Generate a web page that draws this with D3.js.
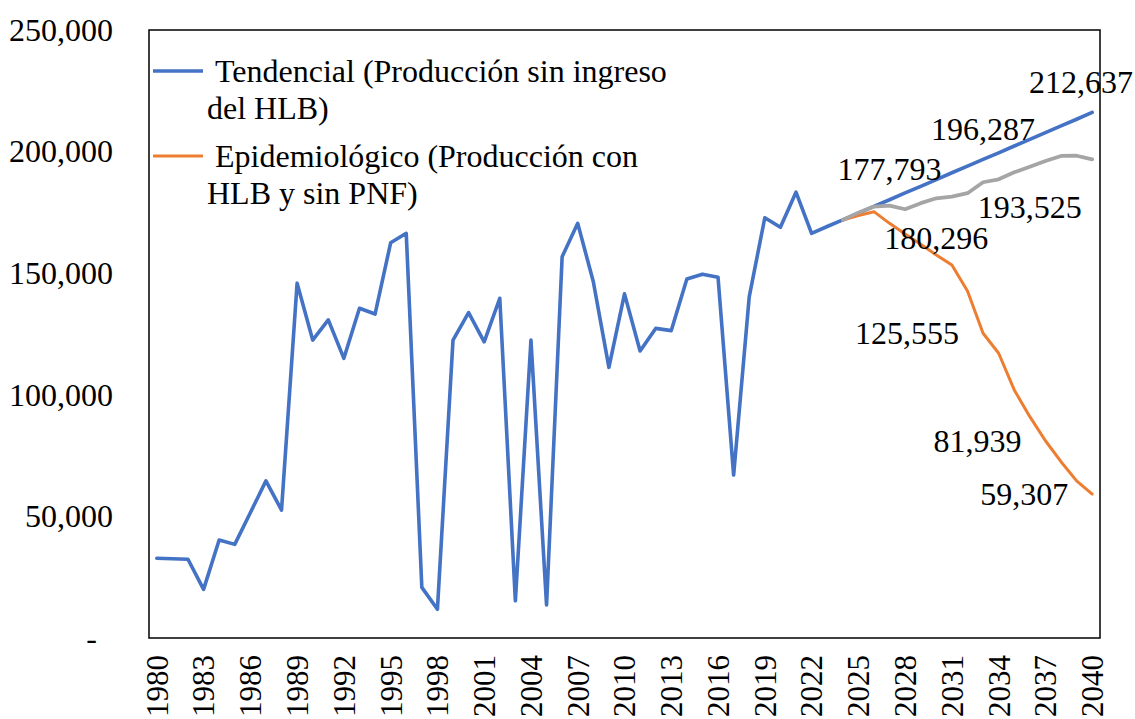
<!DOCTYPE html>
<html>
<head>
<meta charset="utf-8">
<script src="https://cdn.jsdelivr.net/npm/d3@7"></script>
<style>
  body { margin: 0; background: #fff; }
  text { font-family: 'Liberation Serif', 'Times New Roman', serif; fill: #000; }
</style>
</head>
<body>
<svg id="chart" width="1135" height="719"></svg>
<script>
// categories
const years = d3.range(1980, 2041);
const tickYears = years.filter(y => (y - 1980) % 3 === 0);
const yTicks = [0, 50000, 100000, 150000, 200000, 250000];

// Tendencial (1980 - 2040)
const tendencial = [
  32800, 32600, 32400, 20000, 40300, 38500, 51500, 64600, 52600, 145900,
  122500, 130800, 115000, 135600, 133200, 162500, 166400, 20800, 11800, 122500,
  133800, 121800, 139700, 15300, 122500, 13600, 156800, 170500, 146500, 111300,
  141500, 118000, 127300, 126400, 147600, 149600, 148300, 67000, 140300, 172800,
  168900, 183300, 166400, 169200, 171900, 174700, 177500, 180200, 183000, 185700,
  188500, 191300, 194000, 196800, 199500, 202300, 205000, 207800, 210600, 213300, 216100
];
// Epidemiologico (2024 - 2040)
const epidemiologico = [
  171900, 173700, 175300, 170500, 166100, 161900, 157500, 153400, 142700,
  125300, 117100, 102000, 91000, 81100, 72500, 64600, 59200
];
// third series, grey (2024 - 2040)
const conPNF = [
  171900, 174900, 177400, 177800, 176300, 178800, 180800, 181500, 182900,
  187400, 188600, 191500, 193800, 196100, 198200, 198300, 196800
];

const legendNames = [
  ['Tendencial (Producción sin ingreso', 'del HLB)'],
  ['Epidemiológico (Producción con', 'HLB y sin PNF)']
];

// data labels: series, year, text, placement
const labelSeries = ['tend', 'tend', 'tend', 'gris', 'gris', 'epi', 'epi', 'epi'];
const labelYears = [2027, 2033, 2040, 2030, 2036, 2033, 2037, 2040];
const labelTexts = ['177,793', '196,287', '212,637', '180,296', '193,525', '125,555', '81,939', '59,307'];
const labelPlace = ['above', 'above', 'above', 'below', 'below', 'left', 'left', 'left'];

const width = 1135,
  height = 719,
  margins = { left: 149, right: 35, top: 30, bottom: 81 },
  fontSize = '32px';

const vis = d3.select('#chart');

const xScale = d3
    .scaleBand()
    .domain(years)
    .range([margins.left, width - margins.right]),
  yScale = d3
    .scaleLinear()
    .domain([0, 250000])
    .range([height - margins.bottom, margins.top]);

const xc = d => xScale(d) + xScale.bandwidth() / 2;

const series = {
  tend: { start: 1980, values: tendencial, colour: '#4472C4', width: 3.6 },
  epi: { start: 2024, values: epidemiologico, colour: '#ED7D31', width: 3 },
  gris: { start: 2024, values: conPNF, colour: '#A5A5A5', width: 3.75 }
};

//Y axis labels, no ticks
const yAxis = d3
  .axisLeft(yScale)
  .tickValues(yTicks)
  .tickFormat(d => (d === 0 ? '-' : d3.format(',')(d)))
  .tickSize(0)
  .tickPadding(36);

const gy = vis
  .append('g')
  .attr('transform', 'translate(' + margins.left + ',0)')
  .call(yAxis);
gy.select('.domain').remove();
gy.selectAll('text').style('font-size', fontSize).attr('font-family', null);
gy.selectAll('.tick')
  .filter(d => d === 0)
  .select('text')
  .attr('x', -52);

//X axis, rotated year labels
const xAxis = d3
  .axisBottom(xScale)
  .tickValues(tickYears)
  .tickSize(0)
  .tickSizeOuter(0);

const gx = vis
  .append('g')
  .attr('transform', 'translate(0,' + (height - margins.bottom) + ')')
  .call(xAxis);
gx.select('.domain').remove();
gx.selectAll('text')
  .attr('font-family', null)
  .style('font-size', '31px')
  .attr('transform', 'rotate(-90)')
  .attr('text-anchor', 'end')
  .attr('x', -17)
  .attr('y', 0)
  .attr('dy', '0.35em');

//Make lines
const lineGen = d3
  .line()
  .x(d => xc(d.year))
  .y(d => yScale(d.value));

const pointsOf = s => s.values.map((v, i) => ({ year: s.start + i, value: v }));

['tend', 'epi', 'gris'].forEach(k => {
  const s = series[k];
  vis
    .append('path')
    .attr('d', lineGen(pointsOf(s)))
    .attr('stroke', s.colour)
    .attr('stroke-width', s.width)
    .attr('stroke-linejoin', 'round')
    .attr('stroke-linecap', 'round')
    .attr('fill', 'none');
});

//Plot area box
vis
  .append('rect')
  .attr('x', margins.left)
  .attr('y', margins.top)
  .attr('width', width - margins.left - margins.right)
  .attr('height', height - margins.top - margins.bottom)
  .attr('fill', 'none')
  .attr('stroke', '#000')
  .attr('stroke-width', 1.5);

//Data labels
labelTexts.forEach((t, i) => {
  const s = series[labelSeries[i]];
  const v = s.values[labelYears[i] - s.start];
  const px = xc(labelYears[i]),
    py = yScale(v);
  const txt = vis
    .append('text')
    .style('font-size', fontSize)
    .attr('dy', '0.35em')
    .text(t);
  const w = txt.node().getComputedTextLength();
  let x, y;
  if (labelPlace[i] === 'above') {
    x = px - w / 2;
    y = py - 31;
  } else if (labelPlace[i] === 'below') {
    x = px - w / 2;
    y = py + 40;
  } else {
    x = px - 24 - w;
    y = py;
  }
  x = Math.min(x, width - 2 - w);
  txt.attr('x', x).attr('y', y);
});

//Legend
const legend = vis.append('g');
legendNames.forEach((lines, i) => {
  const k = i === 0 ? 'tend' : 'epi';
  const ly = 71 + i * 85;
  legend
    .append('line')
    .attr('x1', 153)
    .attr('x2', 203)
    .attr('y1', ly)
    .attr('y2', ly)
    .attr('stroke', series[k].colour)
    .attr('stroke-width', series[k].width);
  legend
    .append('text')
    .style('font-size', fontSize)
    .attr('x', 215)
    .attr('y', ly)
    .attr('dy', '0.35em')
    .text(lines[0]);
  legend
    .append('text')
    .style('font-size', fontSize)
    .attr('x', 207)
    .attr('y', ly + 37)
    .attr('dy', '0.35em')
    .text(lines[1]);
});
</script>
</body>
</html>
